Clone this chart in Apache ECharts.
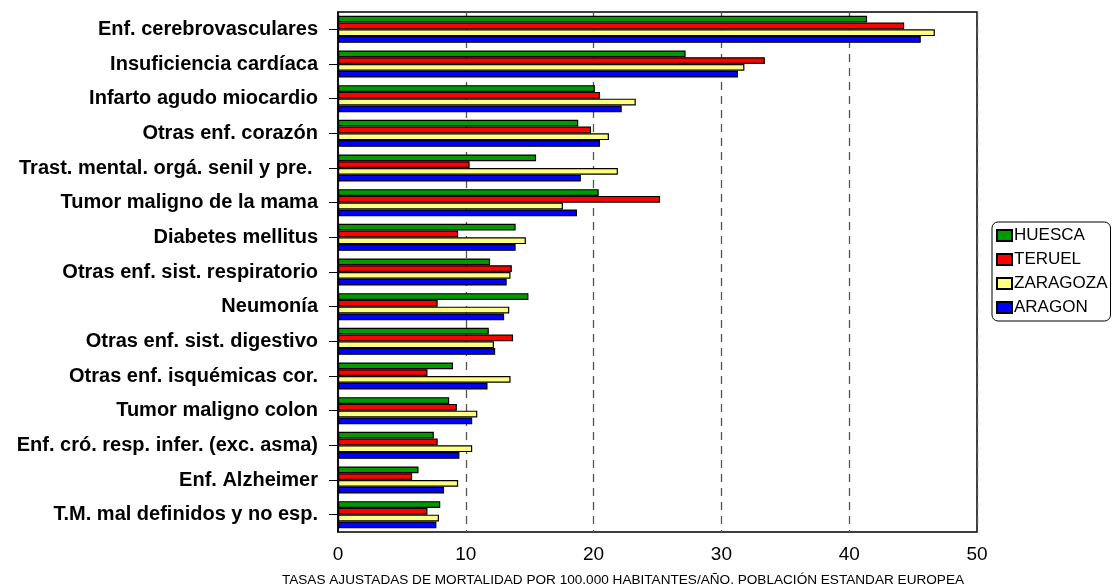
<!DOCTYPE html>
<html>
<head>
<meta charset="utf-8">
<script src="https://cdn.jsdelivr.net/npm/echarts@6/dist/echarts.min.js"></script>
<style>
  html, body { margin: 0; padding: 0; background: #fff; }
  #chart { width: 1112px; height: 587px; }
</style>
</head>
<body>
<div id="chart"></div>
<script>
// causas de muerte (de arriba a abajo)
var categories = [
    'Enf. cerebrovasculares',
    'Insuficiencia cardíaca',
    'Infarto agudo miocardio',
    'Otras enf. corazón',
    'Trast. mental. orgá. senil y pre. ',
    'Tumor maligno de la mama',
    'Diabetes mellitus',
    'Otras enf. sist. respiratorio',
    'Neumonía',
    'Otras enf. sist. digestivo',
    'Otras enf. isquémicas cor.',
    'Tumor maligno colon',
    'Enf. cró. resp. infer. (exc. asma)',
    'Enf. Alzheimer',
    'T.M. mal definidos y no esp.'
];

var huesca   = [41.4, 27.2, 20.1, 18.8, 15.5, 20.4, 13.9, 11.9, 14.9, 11.8, 9.0, 8.7, 7.5, 6.3, 8.0];
var teruel   = [44.3, 33.4, 20.5, 19.8, 10.3, 25.2, 9.4, 13.6, 7.8, 13.7, 7.0, 9.3, 7.8, 5.8, 7.0];
var zaragoza = [46.7, 31.8, 23.3, 21.2, 21.9, 17.6, 14.7, 13.5, 13.4, 12.2, 13.5, 10.9, 10.5, 9.4, 7.9];
var aragon   = [45.6, 31.3, 22.2, 20.5, 19.0, 18.7, 13.9, 13.2, 13.0, 12.3, 11.7, 10.5, 9.5, 8.3, 7.7];

var xTicks = [0, 10, 20, 30, 40, 50];

var chart = echarts.init(document.getElementById('chart'));

function serie(name, data, color) {
    return {
        name: name,
        type: 'bar',
        data: data,
        barGap: '0%',
        barCategoryGap: '22%',
        itemStyle: { color: color, borderColor: '#000', borderWidth: 1.2 },
        emphasis: { disabled: true }
    };
}

var option = {
    animation: false,
    textStyle: { fontFamily: 'Liberation Sans, Arial, sans-serif' },
    grid: {
        left: 338, right: 135, top: 12, bottom: 55,
        show: true, borderColor: '#000', borderWidth: 1.5,
        containLabel: false
    },
    legend: {
        orient: 'vertical',
        left: 992, top: 222,
        padding: [5, 3, 5, 4],
        itemWidth: 15, itemHeight: 11, itemGap: 7,
        icon: 'rect',
        borderColor: '#000', borderWidth: 1, borderRadius: 6,
        textStyle: { fontSize: 17, color: '#000', padding: [0, 0, 0, -3] },
        data: ['HUESCA', 'TERUEL', 'ZARAGOZA', 'ARAGON']
    },
    graphic: [{
        type: 'text',
        x: 623, y: 580,
        style: {
            text: 'TASAS AJUSTADAS DE MORTALIDAD POR 100.000 HABITANTES/AÑO. POBLACIÓN ESTANDAR EUROPEA',
            font: '13.6px Liberation Sans, Arial, sans-serif',
            fill: '#000',
            align: 'center',
            verticalAlign: 'middle'
        }
    }],
    xAxis: {
        type: 'value',
        min: 0, max: 50, interval: 10,
        axisLine: { show: false },
        axisTick: { show: false },
        axisLabel: { fontSize: 19, color: '#000', margin: 13,
            formatter: function (v) { return xTicks.indexOf(v) >= 0 ? String(v) : ''; } },
        splitLine: { show: true, lineStyle: { color: '#555', type: [8, 6], width: 1.3 } }
    },
    yAxis: {
        type: 'category',
        inverse: true,
        data: categories,
        axisLine: { show: true, lineStyle: { color: '#000', width: 1.5 } },
        axisTick: { show: true, alignWithLabel: true, length: 9, lineStyle: { color: '#000' } },
        axisLabel: { fontSize: 20, fontWeight: 'bold', color: '#000', margin: 20, interval: 0 }
    },
    series: [
        serie('HUESCA', huesca, '#009900'),
        serie('TERUEL', teruel, '#ff0000'),
        serie('ZARAGOZA', zaragoza, '#ffff80'),
        serie('ARAGON', aragon, '#0000ff')
    ]
};

chart.setOption(option);
</script>
</body>
</html>
